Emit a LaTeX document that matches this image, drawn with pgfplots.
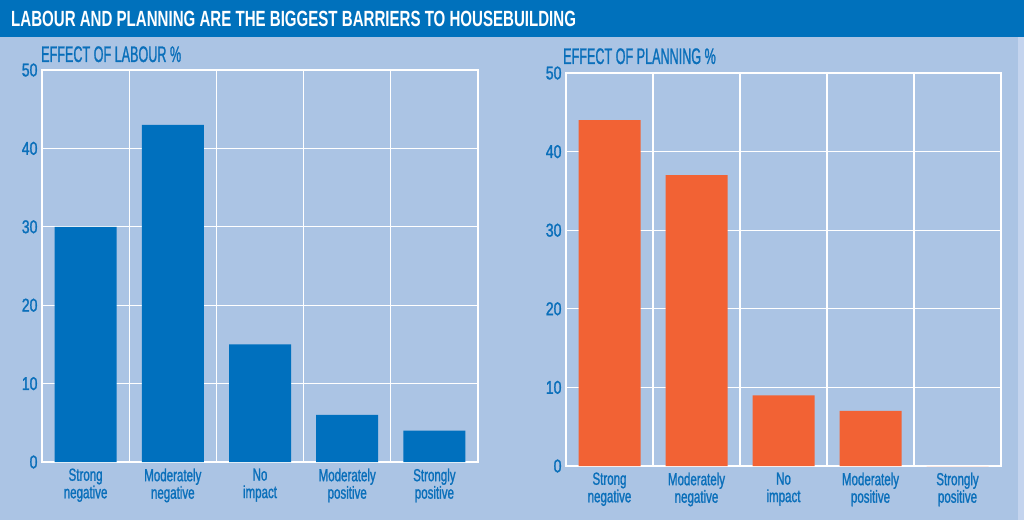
\documentclass[border=0pt]{standalone}
\usepackage{fontspec}
\setmainfont{Liberation Sans}
\newfontfamily\headf[FakeStretch=0.685]{Liberation Sans}
\newfontfamily\titlef[FakeStretch=0.56,FakeBold=1]{Liberation Sans}
\newfontfamily\catf[FakeStretch=0.66,FakeBold=1.2]{Liberation Sans}
\newfontfamily\tickf[FakeStretch=0.76,FakeBold=1.4]{Liberation Sans}
\usepackage{pgfplots}
\pgfplotsset{compat=1.18}

\definecolor{bgblue}{HTML}{ABC4E4}
\definecolor{banner}{HTML}{0071BC}
\definecolor{strip}{HTML}{C4D4EE}
\definecolor{barblue}{HTML}{0070BE}
\definecolor{barorange}{HTML}{F26234}
\definecolor{txtblue}{HTML}{0A6FBA}

\pgfplotsset{
  panel/.style={
    scale only axis,
    anchor=south west,
    ymin=0, ymax=50,
    xmin=-0.5, xmax=4.5,
    ytick={0,10,20,30,40,50},
    xtick={0,1,2,3,4},
    minor xtick={0.5,1.5,2.5,3.5},
    xminorgrids, ymajorgrids,
    major tick length=0pt, minor tick length=0pt,
    grid style={white, line width=1.3pt},
    minor grid style={white, line width=1.3pt},
    axis line style={white, line width=1.3pt},
    xticklabels={{Strong\\negative},{Moderately\\negative},{No\\impact},{Moderately\\positive},{Strongly\\positive}},
    x tick label style={font=\catf\fontsize{17.5}{17.5}\selectfont, text=txtblue, align=center, yshift=-3pt},
    y tick label style={font=\tickf\fontsize{18.5}{18}\selectfont, text=txtblue, xshift=-1pt},
    /pgf/number format/assume math mode=true,
    ybar, bar width=62pt,
  }
}

\begin{document}
\begin{tikzpicture}[x=1pt,y=1pt]
\fill[bgblue] (0,0) rectangle (1024,520);
\fill[strip] (1018,0) rectangle (1024,483);
\fill[banner] (0,483) rectangle (1024,520);
\node[anchor=west, text=white, font=\headf\bfseries\fontsize{22}{22}\selectfont, inner sep=0pt] at (11,501.5)
  {LABOUR AND PLANNING ARE THE BIGGEST BARRIERS TO HOUSEBUILDING};
\node[anchor=base west, text=txtblue, font=\titlef\fontsize{22.5}{22}\selectfont, inner sep=0pt] at (41,458)
  {EFFECT OF LABOUR \%};
\node[anchor=base west, text=txtblue, font=\titlef\fontsize{22.5}{22}\selectfont, inner sep=0pt] at (563,456)
  {EFFECT OF PLANNING \%};

\begin{axis}[panel, at={(42pt,58pt)}, width=436pt, height=392pt]
\addplot[fill=barblue, draw=none] coordinates {(0,30) (1,43) (2,15) (3,6) (4,4)};
\end{axis}

\begin{axis}[panel, at={(566pt,54pt)}, width=435pt, height=393pt]
\addplot[fill=barorange, draw=none] coordinates {(0,44) (1,37) (2,9) (3,7) (4,0)};
\end{axis}
\end{tikzpicture}
\end{document}
